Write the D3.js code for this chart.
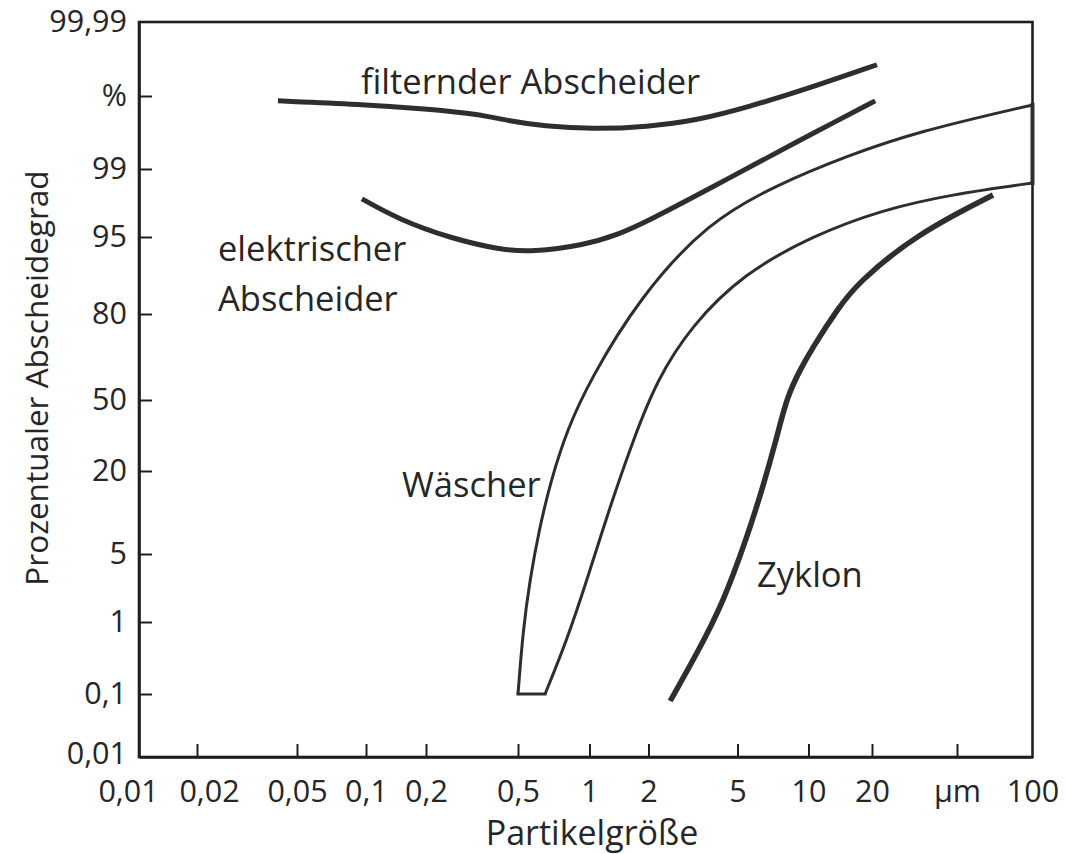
<!DOCTYPE html>
<html>
<head>
<meta charset="utf-8">
<script src="https://cdn.jsdelivr.net/npm/d3@7"></script>
<style>
  html, body { margin: 0; padding: 0; background: #fff; }
  svg { display: block; }
  text { font-family: "Open Sans", "Noto Sans", sans-serif; fill: #262626; }
</style>
</head>
<body>
<svg id="chart" width="1066" height="854"></svg>
<script>
// ---- Data ----
const xTickValues = [0.01, 0.02, 0.05, 0.1, 0.2, 0.5, 1, 2, 5, 10, 20, 50, 100];
const xTickLabels = ["0,01", "0,02", "0,05", "0,1", "0,2", "0,5", "1", "2", "5", "10", "20", "µm", "100"];
const yTickValues = [0.01, 0.1, 1, 5, 20, 50, 80, 95, 99, 99.9, 99.99];
const yTickLabels = ["0,01", "0,1", "1", "5", "20", "50", "80", "95", "99", "%", "99,99"];

// filternder Abscheider
const filterSize = [0.042, 0.094, 0.202, 0.332, 0.462, 0.637, 1.04, 1.97, 3.3, 5.5, 10.5, 21.1];
const filterEff  = [99.84, 99.80, 99.74, 99.68, 99.59, 99.53, 99.49, 99.52, 99.60, 99.76, 99.911, 99.938];

// elektrischer Abscheider
const elecSize = [0.096, 0.148, 0.254, 0.418, 0.578, 0.939, 1.38, 2.03, 3.69, 7.42, 10.5, 20.7];
const elecEff  = [97.24, 96.0, 94.8, 92.5, 92.1, 93.4, 95.1, 96.0, 97.8, 99.21, 99.44, 99.84];

// Wäscher (band: upper and lower boundary)
const washUpperSize = [0.5, 0.525, 0.561, 0.613, 0.689, 0.804, 1.006, 1.79, 3.69, 7.42, 15.2, 32.5, 100];
const washUpperEff  = [0.1, 0.9, 3.47, 9.34, 18.4, 37.3, 57.0, 83.1, 95.9, 98.1, 99.16, 99.46, 99.79];
const washLowerSize = [0.65, 0.804, 0.976, 1.27, 1.67, 2.18, 3.10, 5.28, 10.4, 22.3, 46.9, 100];
const washLowerEff  = [0.1, 0.775, 3.47, 13.5, 33.1, 57.0, 75.8, 87.8, 95.06, 96.6, 97.5, 98.18];

// Zyklon
const cycSize = [2.5, 3.30, 4.31, 5.49, 6.41, 7.35, 8.1, 9.2, 10.5, 13.65, 17.0, 32.5, 69.6];
const cycEff  = [0.09, 0.61, 2.12, 8.07, 17.1, 34.4, 51.0, 60.5, 68.5, 80.8, 86.0, 95.2, 97.47];

// ---- Chart ----
const svg = d3.select("#chart");

const x = d3.scaleLog()
  .domain(xTickValues)
  .range([139, 197, 297, 366, 426, 518, 589.5, 648.5, 737.5, 808.5, 872, 957, 1032.5]);

const y = d3.scaleLinear()
  .domain(yTickValues)
  .range([757, 694, 622, 554, 471, 400, 314, 237, 169, 96, 22]);

const ink = "#1e1e1e";
const curveInk = "#2e2e2e";
const tickFont = 30.5;

// Frame (box)
const x0 = x(xTickValues[0]), x1 = x(xTickValues[xTickValues.length - 1]);
const y0 = y(yTickValues[0]), y1 = y(yTickValues[yTickValues.length - 1]);
svg.append("rect")
  .attr("x", x0).attr("y", y1)
  .attr("width", x1 - x0).attr("height", y0 - y1)
  .attr("fill", "none").attr("stroke", ink).attr("stroke-width", 2.6);

// X axis
const xAxis = d3.axisBottom(x)
  .tickValues(xTickValues)
  .tickFormat((d, i) => xTickLabels[i])
  .tickSizeInner(-13).tickSizeOuter(0).tickPadding(23);
const gx = svg.append("g").attr("transform", `translate(0,${y0})`).call(xAxis);
gx.select(".domain").attr("stroke", ink).attr("stroke-width", 2.6);
gx.selectAll(".tick line").attr("stroke", ink).attr("stroke-width", 2);
gx.selectAll(".tick text").attr("font-size", tickFont).attr("fill", "#262626")
  .attr("font-family", "'Open Sans', sans-serif");
gx.selectAll(".tick line").filter((d, i) => i === 0 || i === xTickValues.length - 1).remove();
// crowded first labels are nudged apart, as in the original
gx.selectAll(".tick text").filter((d, i) => i === 0).attr("dx", -11);
gx.selectAll(".tick text").filter((d, i) => i === 1).attr("dx", 12);

// Y axis
const yAxis = d3.axisLeft(y)
  .tickValues(yTickValues)
  .tickFormat((d, i) => yTickLabels[i])
  .tickSizeInner(-13).tickSizeOuter(0).tickPadding(12);
const gy = svg.append("g").attr("transform", `translate(${x0},0)`).call(yAxis);
gy.select(".domain").attr("stroke", ink).attr("stroke-width", 2.6);
gy.selectAll(".tick line").attr("stroke", ink).attr("stroke-width", 2);
gy.selectAll(".tick text").attr("font-size", tickFont).attr("fill", "#262626")
  .attr("font-family", "'Open Sans', sans-serif");
gy.selectAll(".tick line").filter((d, i) => i === 0 || i === yTickValues.length - 1).remove();
gy.selectAll(".tick text").filter((d, i) => i === 0).attr("dy", "0.2em");

// Axis titles
svg.append("text")
  .attr("transform", `translate(35,378) rotate(-90)`)
  .attr("text-anchor", "middle").attr("dominant-baseline", "central")
  .attr("font-size", 31.5).text("Prozentualer Abscheidegrad");
svg.append("text")
  .attr("x", 592).attr("y", 832)
  .attr("text-anchor", "middle").attr("dominant-baseline", "central")
  .attr("font-size", 34).text("Partikelgröße");

// Curves
const line = d3.line()
  .x(d => x(d[0])).y(d => y(d[1]))
  .curve(d3.curveBasis);
const zip = (a, b) => a.map((v, i) => [v, b[i]]);

function drawCurve(sizes, effs, width) {
  svg.append("path")
    .datum(zip(sizes, effs))
    .attr("d", line)
    .attr("fill", "none")
    .attr("stroke", curveInk)
    .attr("stroke-width", width)
    .attr("stroke-linecap", "butt");
}

drawCurve(filterSize, filterEff, 5);
drawCurve(elecSize, elecEff, 5);
drawCurve(washUpperSize, washUpperEff, 3);
drawCurve(washLowerSize, washLowerEff, 3);
drawCurve(cycSize, cycEff, 5.5);

// Wäscher closing segments (bottom and right edge)
const straight = d3.line().x(d => x(d[0])).y(d => y(d[1]));
svg.append("path")
  .datum([[washUpperSize[0], washUpperEff[0]], [washLowerSize[0], washLowerEff[0]]])
  .attr("d", straight).attr("fill", "none")
  .attr("stroke", curveInk).attr("stroke-width", 3).attr("stroke-linecap", "square");
svg.append("path")
  .datum([[washUpperSize[washUpperSize.length - 1], washUpperEff[washUpperEff.length - 1]],
          [washLowerSize[washLowerSize.length - 1], washLowerEff[washLowerEff.length - 1]]])
  .attr("d", straight).attr("fill", "none")
  .attr("stroke", curveInk).attr("stroke-width", 4).attr("stroke-linecap", "square");

// Curve labels
const labels = [
  { t: "filternder Abscheider", x: 361, y: 80 },
  { t: "elektrischer", x: 218, y: 247 },
  { t: "Abscheider", x: 218, y: 297 },
  { t: "Wäscher", x: 402, y: 483 },
  { t: "Zyklon", x: 757, y: 573 }
];
svg.selectAll("text.lbl").data(labels).enter().append("text")
  .attr("class", "lbl")
  .attr("x", d => d.x).attr("y", d => d.y)
  .attr("text-anchor", "start").attr("dominant-baseline", "central")
  .attr("font-size", 34.5).text(d => d.t);
</script>
</body>
</html>
